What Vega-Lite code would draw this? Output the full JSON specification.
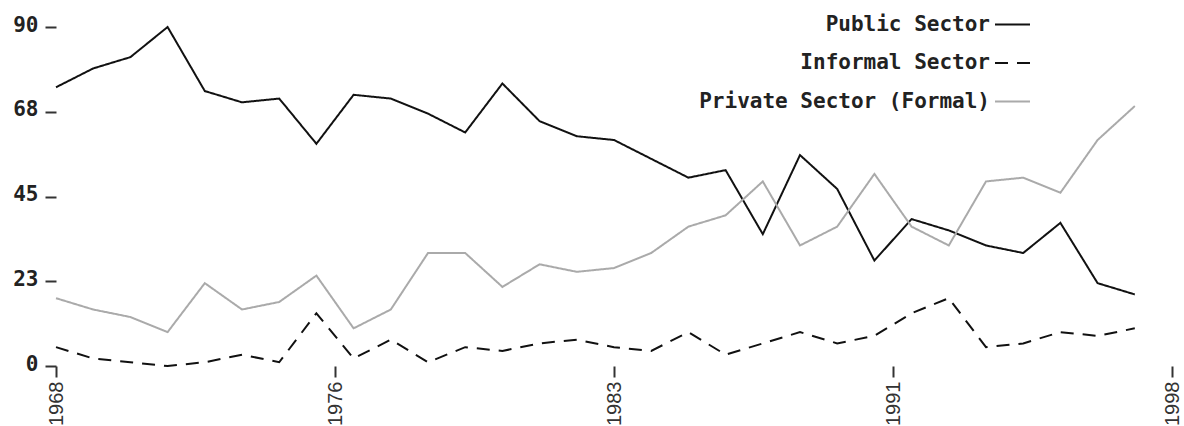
{
  "$schema": "https://vega.github.io/schema/vega-lite/v6.json",
  "autosize": {"type": "none"},
  "width": 1116,
  "height": 339,
  "padding": {"left": 56, "top": 27, "right": 12, "bottom": 60},
  "background": "white",
  "config": {
    "view": {"stroke": null},
    "font": "DejaVu Sans Mono",
    "axis": {
      "domain": false,
      "grid": false,
      "labelFont": "DejaVu Sans Mono",
      "labelFontSize": 21,
      "labelFontWeight": "bold",
      "labelColor": "#222",
      "tickColor": "#333",
      "tickWidth": 2,
      "tickSize": 11,
      "title": null
    },
    "legend": {
      "title": null,
      "orient": "none",
      "legendX": 938,
      "legendY": -21,
      "padding": 0,
      "rowPadding": 9.5,
      "symbolType": "stroke",
      "symbolSize": 1225,
      "symbolStrokeWidth": 2,
      "labelAlign": "right",
      "labelOffset": -41,
      "labelLimit": 400,
      "labelFont": "DejaVu Sans Mono",
      "labelFontSize": 21,
      "labelFontWeight": "bold",
      "labelColor": "#222"
    }
  },
  "data": {
    "values": [
      {"year": 1968, "sector": "Public Sector", "value": 74},
      {"year": 1969, "sector": "Public Sector", "value": 79},
      {"year": 1970, "sector": "Public Sector", "value": 82},
      {"year": 1971, "sector": "Public Sector", "value": 90},
      {"year": 1972, "sector": "Public Sector", "value": 73},
      {"year": 1973, "sector": "Public Sector", "value": 70},
      {"year": 1974, "sector": "Public Sector", "value": 71},
      {"year": 1975, "sector": "Public Sector", "value": 59},
      {"year": 1976, "sector": "Public Sector", "value": 72},
      {"year": 1977, "sector": "Public Sector", "value": 71},
      {"year": 1978, "sector": "Public Sector", "value": 67},
      {"year": 1979, "sector": "Public Sector", "value": 62},
      {"year": 1980, "sector": "Public Sector", "value": 75},
      {"year": 1981, "sector": "Public Sector", "value": 65},
      {"year": 1982, "sector": "Public Sector", "value": 61},
      {"year": 1983, "sector": "Public Sector", "value": 60},
      {"year": 1984, "sector": "Public Sector", "value": 55},
      {"year": 1985, "sector": "Public Sector", "value": 50},
      {"year": 1986, "sector": "Public Sector", "value": 52},
      {"year": 1987, "sector": "Public Sector", "value": 35},
      {"year": 1988, "sector": "Public Sector", "value": 56},
      {"year": 1989, "sector": "Public Sector", "value": 47},
      {"year": 1990, "sector": "Public Sector", "value": 28},
      {"year": 1991, "sector": "Public Sector", "value": 39},
      {"year": 1992, "sector": "Public Sector", "value": 36},
      {"year": 1993, "sector": "Public Sector", "value": 32},
      {"year": 1994, "sector": "Public Sector", "value": 30},
      {"year": 1995, "sector": "Public Sector", "value": 38},
      {"year": 1996, "sector": "Public Sector", "value": 22},
      {"year": 1997, "sector": "Public Sector", "value": 19},
      {"year": 1968, "sector": "Informal Sector", "value": 5},
      {"year": 1969, "sector": "Informal Sector", "value": 2},
      {"year": 1970, "sector": "Informal Sector", "value": 1},
      {"year": 1971, "sector": "Informal Sector", "value": 0},
      {"year": 1972, "sector": "Informal Sector", "value": 1},
      {"year": 1973, "sector": "Informal Sector", "value": 3},
      {"year": 1974, "sector": "Informal Sector", "value": 1},
      {"year": 1975, "sector": "Informal Sector", "value": 14},
      {"year": 1976, "sector": "Informal Sector", "value": 2},
      {"year": 1977, "sector": "Informal Sector", "value": 7},
      {"year": 1978, "sector": "Informal Sector", "value": 1},
      {"year": 1979, "sector": "Informal Sector", "value": 5},
      {"year": 1980, "sector": "Informal Sector", "value": 4},
      {"year": 1981, "sector": "Informal Sector", "value": 6},
      {"year": 1982, "sector": "Informal Sector", "value": 7},
      {"year": 1983, "sector": "Informal Sector", "value": 5},
      {"year": 1984, "sector": "Informal Sector", "value": 4},
      {"year": 1985, "sector": "Informal Sector", "value": 9},
      {"year": 1986, "sector": "Informal Sector", "value": 3},
      {"year": 1987, "sector": "Informal Sector", "value": 6},
      {"year": 1988, "sector": "Informal Sector", "value": 9},
      {"year": 1989, "sector": "Informal Sector", "value": 6},
      {"year": 1990, "sector": "Informal Sector", "value": 8},
      {"year": 1991, "sector": "Informal Sector", "value": 14},
      {"year": 1992, "sector": "Informal Sector", "value": 18},
      {"year": 1993, "sector": "Informal Sector", "value": 5},
      {"year": 1994, "sector": "Informal Sector", "value": 6},
      {"year": 1995, "sector": "Informal Sector", "value": 9},
      {"year": 1996, "sector": "Informal Sector", "value": 8},
      {"year": 1997, "sector": "Informal Sector", "value": 10},
      {"year": 1968, "sector": "Private Sector (Formal)", "value": 18},
      {"year": 1969, "sector": "Private Sector (Formal)", "value": 15},
      {"year": 1970, "sector": "Private Sector (Formal)", "value": 13},
      {"year": 1971, "sector": "Private Sector (Formal)", "value": 9},
      {"year": 1972, "sector": "Private Sector (Formal)", "value": 22},
      {"year": 1973, "sector": "Private Sector (Formal)", "value": 15},
      {"year": 1974, "sector": "Private Sector (Formal)", "value": 17},
      {"year": 1975, "sector": "Private Sector (Formal)", "value": 24},
      {"year": 1976, "sector": "Private Sector (Formal)", "value": 10},
      {"year": 1977, "sector": "Private Sector (Formal)", "value": 15},
      {"year": 1978, "sector": "Private Sector (Formal)", "value": 30},
      {"year": 1979, "sector": "Private Sector (Formal)", "value": 30},
      {"year": 1980, "sector": "Private Sector (Formal)", "value": 21},
      {"year": 1981, "sector": "Private Sector (Formal)", "value": 27},
      {"year": 1982, "sector": "Private Sector (Formal)", "value": 25},
      {"year": 1983, "sector": "Private Sector (Formal)", "value": 26},
      {"year": 1984, "sector": "Private Sector (Formal)", "value": 30},
      {"year": 1985, "sector": "Private Sector (Formal)", "value": 37},
      {"year": 1986, "sector": "Private Sector (Formal)", "value": 40},
      {"year": 1987, "sector": "Private Sector (Formal)", "value": 49},
      {"year": 1988, "sector": "Private Sector (Formal)", "value": 32},
      {"year": 1989, "sector": "Private Sector (Formal)", "value": 37},
      {"year": 1990, "sector": "Private Sector (Formal)", "value": 51},
      {"year": 1991, "sector": "Private Sector (Formal)", "value": 37},
      {"year": 1992, "sector": "Private Sector (Formal)", "value": 32},
      {"year": 1993, "sector": "Private Sector (Formal)", "value": 49},
      {"year": 1994, "sector": "Private Sector (Formal)", "value": 50},
      {"year": 1995, "sector": "Private Sector (Formal)", "value": 46},
      {"year": 1996, "sector": "Private Sector (Formal)", "value": 60},
      {"year": 1997, "sector": "Private Sector (Formal)", "value": 69}
    ]
  },
  "mark": {"type": "line", "strokeWidth": 2},
  "encoding": {
    "x": {
      "field": "year",
      "type": "quantitative",
      "scale": {"domain": [1968, 1998], "nice": false, "zero": false},
      "axis": {
        "values": [1968, 1975.5, 1983, 1990.5, 1998],
        "format": "d",
        "labelAngle": -90,
        "labelPadding": 4,
        "labelFont": "Liberation Sans",
        "labelFontWeight": "normal",
        "labelFontSize": 20,
        "labelColor": "#333"
      }
    },
    "y": {
      "field": "value",
      "type": "quantitative",
      "scale": {"domain": [0, 90], "nice": false},
      "axis": {
        "values": [0, 22.5, 45, 67.5, 90],
        "format": "d",
        "labelPadding": 7,
        "labelOffset": -2
      }
    },
    "color": {
      "field": "sector",
      "type": "nominal",
      "scale": {
        "domain": ["Public Sector", "Informal Sector", "Private Sector (Formal)"],
        "range": ["#111111", "#111111", "#aaaaaa"]
      },
      "legend": {"title": null}
    },
    "strokeDash": {
      "field": "sector",
      "type": "nominal",
      "scale": {
        "domain": ["Public Sector", "Informal Sector", "Private Sector (Formal)"],
        "range": [[1, 0], [13, 9], [1, 0]]
      },
      "legend": {"title": null}
    }
  }
}
